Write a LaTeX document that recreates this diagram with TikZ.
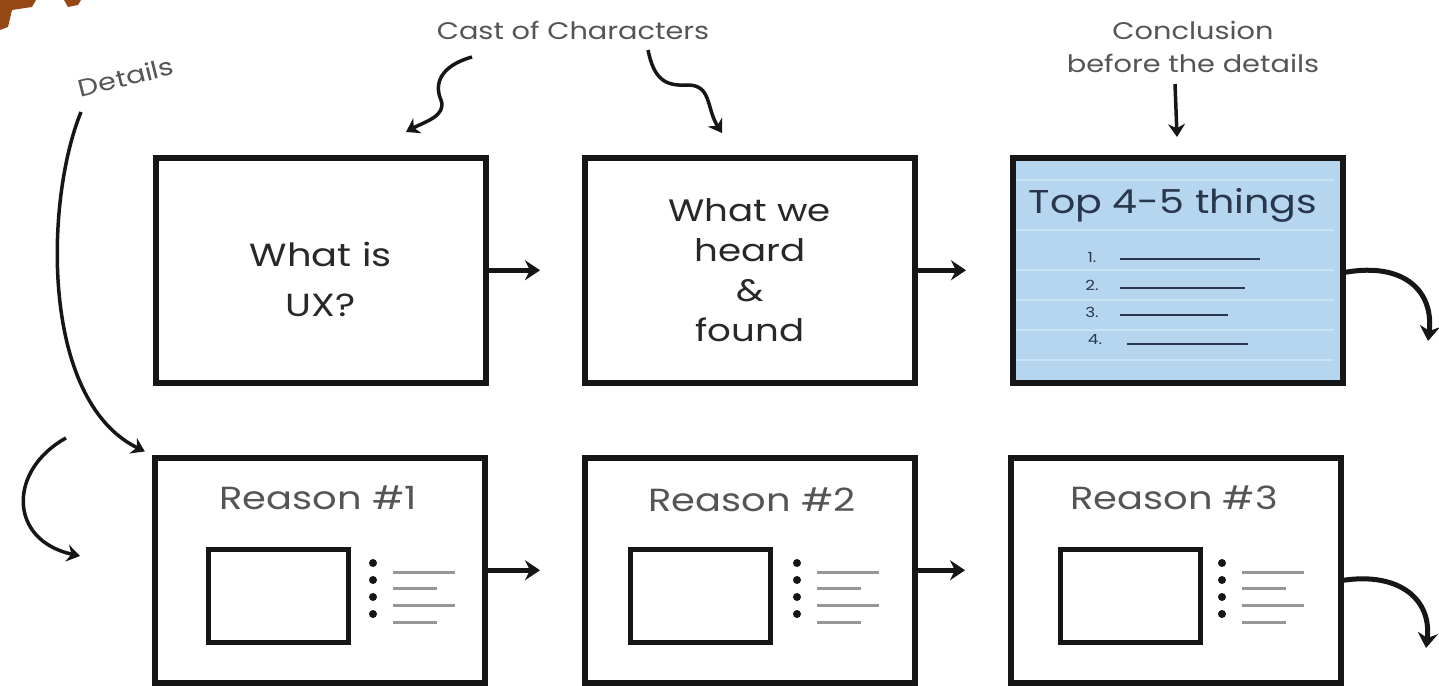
\documentclass[tikz,border=0pt]{standalone}
\usepackage{fontspec}
\setmainfont{Poppins}
\newfontfamily\hand{Poppins}[FakeStretch=1.2]
\usetikzlibrary{arrows.meta}
\definecolor{ink}{RGB}{22,22,22}
\definecolor{txt}{RGB}{40,40,40}
\definecolor{note}{RGB}{85,85,85}
\definecolor{paper}{RGB}{182,214,240}
\definecolor{paperline}{RGB}{200,226,246}
\definecolor{listink}{RGB}{40,55,75}
\definecolor{logo}{RGB}{150,72,20}
\definecolor{gline}{RGB}{150,150,150}
\begin{document}
\begin{tikzpicture}[x=1pt,y=-1pt,
  card/.style={draw=ink, line width=5.5pt, minimum width=330pt, minimum height=225pt, anchor=north west, inner sep=0pt},
  big/.style={font=\hand\fontsize{31}{40}\selectfont, text=txt, align=center},
  reason/.style={font=\hand\fontsize{32}{36}\selectfont, text=note},
  ann/.style={font=\hand\fontsize{24}{33}\selectfont, text=note, align=center},
  flow/.style={draw=ink, line width=5pt, -{Stealth[length=15pt,width=20pt]}},
  hint/.style={draw=ink, line width=3.5pt, -{Stealth[length=13pt,width=17pt]}},
  thumb/.style={draw=ink, line width=4.5pt, minimum width=140pt, minimum height=93pt, anchor=north west, inner sep=0pt},
  bulletdot/.style={circle, fill=ink, minimum size=8pt, inner sep=0pt},
  gl/.style={draw=gline, line width=3pt},
  num/.style={font=\hand\fontsize{14}{15}\selectfont, text=listink},
  ul/.style={draw=listink, line width=2.5pt},
]
\useasboundingbox[fill=white] (0,0) rectangle (1439,685);

% cut-off logo fragment
\fill[logo] (0,0) -- (36,0) -- (32,7) -- (12,10) -- (8,27) -- (0,30) -- cycle;
\fill[logo] (64,0) -- (81,0) -- (78,5) -- (68,7) -- cycle;

% top row
\node[card] (b1) at (153,155) {};
\node[big, font=\hand\fontsize{32}{50}\selectfont] (t1) at ([yshift=-9pt]b1.center) {What is\\UX?};
\node[card] (b2) at (582,155) {};
\node[big] (t2) at (b2.center) {What we\\heard\\\&\\found};
\node[card, fill=paper] (b3) at (1010,155) {};
\foreach \yy in {180,230,270,300,330,360} {\draw[paperline, line width=1.5pt] (1016,\yy) -- (1334,\yy);}
\node[font=\hand\fontsize{33}{36}\selectfont, text=listink] (t3) at (1173,205) {Top 4-5 things};
\node[num] (n1) at (1092,257) {1.};
\node[num] (n2) at (1092,285) {2.};
\node[num] (n3) at (1092,312) {3.};
\node[num] (n4) at (1095,340) {4.};
\draw[ul] (1120,259) -- (1260,259);
\draw[ul] (1120,288) -- (1245,288);
\draw[ul] (1120,315) -- (1228,315);
\draw[ul] (1127,344) -- (1248,344);

% bottom row
\node[card] (b4) at (152,455) {};
\node[card] (b5) at (582,455) {};
\node[card] (b6) at (1008,455) {};
\node[reason] (r1) at (318,498) {Reason \#1};
\node[reason] (r2) at (752,500) {Reason \#2};
\node[reason] (r3) at (1174,498) {Reason \#3};
\foreach \bx/\px/\dx in {152/206/373, 582/628/797, 1008/1058/1222} {
  \node[thumb] at (\px,547) {};
  \foreach \dy in {563,580,597,614} {\node[bulletdot] at (\dx,\dy) {};}
  \draw[gl] (\dx+20,572) -- (\dx+82,572);
  \draw[gl] (\dx+20,588) -- (\dx+64,588);
  \draw[gl] (\dx+20,605) -- (\dx+82,605);
  \draw[gl] (\dx+20,622) -- (\dx+64,622);
}

% flow arrows
\draw[flow, shorten >=42pt] (b1.east) -- (b2.west);
\draw[flow, shorten >=44pt] (b2.east) -- (b3.west);
\draw[flow, shorten >=42pt] (b4.east) -- (b5.west);
\draw[flow, shorten >=43pt] (b5.east) -- (b6.west);
\coordinate (e3) at (1428,341);
\draw[flow] ([yshift=-2pt]b3.east) .. controls (1405,262) and (1434,292) .. (e3);
\coordinate (e6) at (1426,648);
\draw[flow] ([yshift=-10pt]b6.east) .. controls (1400,572) and (1432,600) .. (e6);
\coordinate (l1) at (66,438);
\coordinate (l2) at (80,556);
\draw[hint] (l1) .. controls (8,470) and (8,540) .. (l2);

% annotations
\node[ann, rotate=14] (det) at (126,77) {Details};
\coordinate (d0) at (81,112);
\draw[hint, shorten >=8pt] (d0) .. controls (45,200) and (40,400) .. (b4.north west);
\node[ann] (cast) at (573,30) {Cast of Characters};
\coordinate (c1s) at (472,57);
\coordinate (c1m) at (441,100);
\coordinate (c1e) at (406,132);
\draw[hint] (c1s) .. controls (440,66) and (434,84) .. (c1m) .. controls (447,116) and (424,122) .. (c1e);
\coordinate (c2s) at (648,50);
\coordinate (c2m) at (686,85);
\coordinate (c2e) at (722,133);
\draw[hint] (c2s) .. controls (654,80) and (666,86) .. (c2m) .. controls (712,84) and (706,108) .. (c2e);
\node[ann] (concl) at (1193,47) {Conclusion\\before the details};
\coordinate (k0) at (1175,84);
\draw[hint, shorten >=18pt] (k0) -- (b3.north);
\end{tikzpicture}
\end{document}
